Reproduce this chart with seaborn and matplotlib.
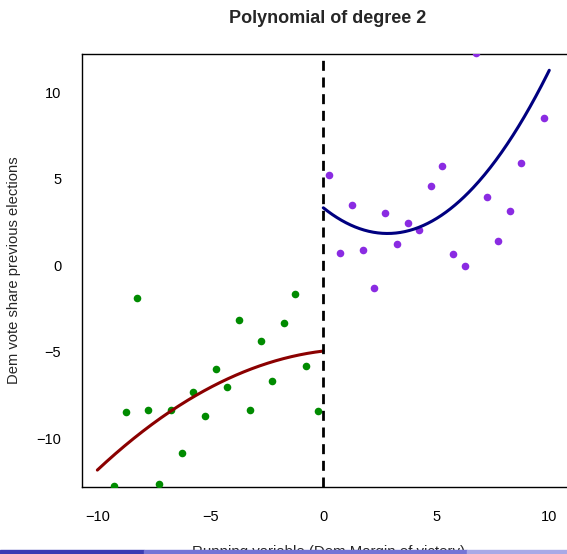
import numpy as np
import pandas as pd
import matplotlib.pyplot as plt
import seaborn as sns
from matplotlib.patches import Rectangle

# medias por faixa (lado esquerdo e direito do corte em 0)
x_left = [-9.25, -8.75, -8.25, -7.75, -7.25, -6.75, -6.25, -5.75, -5.25, -4.75,
          -4.25, -3.75, -3.25, -2.75, -2.25, -1.75, -1.25, -0.75, -0.25]
y_left = [-12.77, -8.51, -1.93, -8.40, -12.66, -8.40, -10.88, -7.36, -8.75, -6.03,
          -7.07, -3.20, -8.40, -4.41, -6.71, -3.37, -1.70, -5.86, -8.46]

x_right = [0.25, 0.75, 1.25, 1.75, 2.25, 2.75, 3.25, 3.75, 4.25, 4.75,
           5.25, 5.75, 6.25, 6.75, 7.25, 7.75, 8.25, 8.75, 9.75]
y_right = [5.20, 0.68, 3.45, 0.85, -1.35, 2.99, 1.20, 2.41, 2.00, 4.55,
           5.71, 0.62, -0.08, 12.24, 3.91, 1.37, 3.10, 5.88, 8.48]

# coeficientes do polinomio de grau 2 (a, b, c)
coef_left = [-0.0534, 0.154, -4.97]
coef_right = [0.184, -1.045, 3.31]

x_ticks = [-10, -5, 0, 5, 10]
y_ticks = [-10, -5, 0, 5, 10]
tick_labels = ['\u221210', '\u22125', '0', '5', '10']

sns.set_style('white')
plt.rcParams['font.family'] = ['Liberation Sans', 'DejaVu Sans']

fig = plt.figure(figsize=(5.67, 5.54), dpi=100)
ax = fig.add_axes([0.1446, 0.1209, 0.86, 0.7816])

left = pd.DataFrame({'x': x_left, 'y': y_left})
right = pd.DataFrame({'x': x_right, 'y': y_right})

grid_l = np.linspace(-10, 0, 200)
grid_r = np.linspace(0, 10, 200)

sns.scatterplot(data=left, x='x', y='y', color='#008B00', s=30, linewidth=0, ax=ax, zorder=3)
sns.scatterplot(data=right, x='x', y='y', color='#8A2BE2', s=30, linewidth=0, ax=ax, zorder=3)
sns.lineplot(x=grid_l, y=np.polyval(coef_left, grid_l), color='darkred', linewidth=2.2, ax=ax, zorder=4)
sns.lineplot(x=grid_r, y=np.polyval(coef_right, grid_r), color='navy', linewidth=2.2, ax=ax, zorder=4)
ax.axvline(0, color='black', linewidth=2, dashes=(3.6, 2.4), zorder=5)

ax.set_xlim(-10.68, 10.9)
ax.set_ylim(-12.83, 12.2)
ax.set_xticks(x_ticks)
ax.set_yticks(y_ticks)
ax.set_xticklabels(tick_labels)
ax.set_yticklabels(tick_labels)
ax.tick_params(direction='out', length=7, width=1, labelsize=10.5, colors='black')
ax.tick_params(axis='x', pad=9.5)
ax.tick_params(axis='y', pad=8)
for s in ['left', 'bottom', 'top']:
    ax.spines[s].set_color('black')
    ax.spines[s].set_linewidth(1)
ax.spines['right'].set_visible(False)
ax.set_xlabel('')
ax.set_ylabel('Dem vote share previous elections', fontsize=10.6, labelpad=11)

fig.text(0.577, 0.9585, 'Polynomial of degree 2', ha='center', va='baseline',
         fontsize=13, fontweight='bold')
fig.text(0.580, -0.004, 'Running variable (Dem Margin of victory)', ha='center',
         va='baseline', fontsize=10.8)

# barra de navegacao do slide
fig.patches.append(Rectangle((0, 0), 0.254, 0.0065, transform=fig.transFigure,
                             color='#3B3BB3', zorder=10))
fig.patches.append(Rectangle((0.254, 0), 0.570, 0.0065, transform=fig.transFigure,
                             color='#7575D6', zorder=10))
fig.patches.append(Rectangle((0.824, 0), 0.176, 0.0065, transform=fig.transFigure,
                             color='#A9A9E6', zorder=10))

fig.savefig('out.png', dpi=100)
